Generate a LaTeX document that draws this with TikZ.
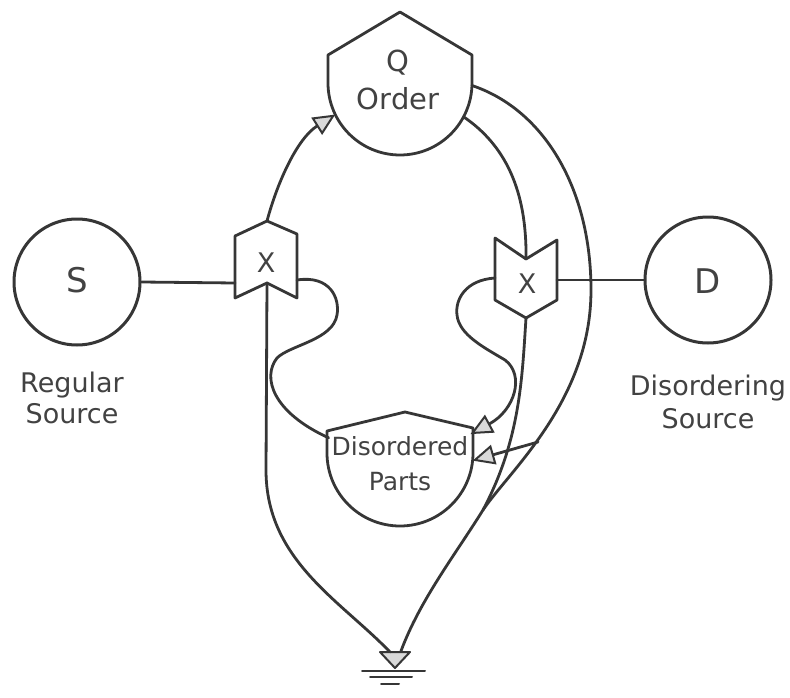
\documentclass[tikz,border=0pt]{standalone}
\usepackage{fontspec}
\setmainfont{DejaVu Sans}
\usetikzlibrary{arrows.meta,calc}
\definecolor{ink}{HTML}{363636}
\definecolor{txt}{HTML}{424242}
\begin{document}
\begin{tikzpicture}[x=1pt,y=-1pt,line cap=round,line join=round,
  wire/.style={draw=ink,line width=2.8pt},
  flow/.style={wire,-{Triangle[length=22pt,width=20pt,fill=gray!30,line width=2pt]}},
  lbl/.style={text=txt,font=\fontsize{27}{32}\selectfont,anchor=base,inner sep=0pt},
  biglbl/.style={lbl,font=\fontsize{34}{40}\selectfont},
  qlbl/.style={lbl,font=\fontsize{29}{34}\selectfont},
  smalllbl/.style={lbl,font=\fontsize{25}{30}\selectfont},
  src/.style={circle,draw=ink,line width=3pt,minimum size=126pt,inner sep=0pt},
  tank/.style={circle,inner sep=0pt,outer sep=0pt}]
\useasboundingbox (0,0) rectangle (790,698);

% sources
\node[src] (S) at (77,282) {};
\node[src] (D) at (708,280) {};
\node[biglbl] (St) at (77,292) {S};
\node[biglbl] (Dt) at (708,293) {D};
\node[lbl] (R1) at (72,392) {Regular};
\node[lbl] (R2) at (72,423) {Source};
\node[lbl] (D1) at (708,395) {Disordering};
\node[lbl] (D2) at (708,428) {Source};

% storage Q
\node[tank,minimum size=144pt] (Q) at (400,83) {};
\draw[wire] (328,83) -- (328,55) -- (400,12) -- (472,55) -- (472,83)
  arc[start angle=0,end angle=180,radius=72] -- cycle;
\node[qlbl] (Qt) at (398,72) {Q};
\node[qlbl] (Ot) at (398,110) {Order};

% storage Disordered Parts
\node[tank,minimum size=146pt] (DP) at (400,453) {};
\draw[wire] (327,453) -- (327,431) -- (405,412) -- (473,428) -- (473,453)
  arc[start angle=0,end angle=180,radius=73] -- cycle;
\node[smalllbl] (DPt1) at (400,455) {Disordered};
\node[smalllbl] (DPt2) at (400,490) {Parts};

% multipliers
\draw[wire] (267,221) -- (297,234) -- (297,298) -- (267,283) -- (235,298) -- (235,236) -- cycle;
\draw[wire] (495,238) -- (526,259) -- (557,240) -- (557,300) -- (526,318) -- (495,300) -- cycle;
\node[lbl] (XLt) at (266,272) {X};
\node[lbl] (XRt) at (527,293) {X};
\coordinate (XLtop) at (267,221);
\coordinate (XLleft) at (235,283);
\coordinate (XLright) at (297,280);
\coordinate (XLnotch) at (267,283);
\coordinate (XRnotch) at (526,259);
\coordinate (XRleft) at (495,278);
\coordinate (XRright) at (557,280);
\coordinate (XRapex) at (526,318);

% sink
\coordinate (sinkL) at (390,652);
\coordinate (sinkR) at (401,651);
\coordinate (merge) at (483,510);
\coordinate (tap) at (538,442);
\draw[wire,fill=gray!30,line width=2pt] (380,652) -- (410,652) -- (395,668) -- cycle;
\draw[wire,line width=2pt] (362,671) -- (425,671);
\draw[wire,line width=2pt] (370,677) -- (412,677);
\draw[wire,line width=2pt] (381,684) -- (399,684);

% connectors
\draw[wire] (S.east) -- (XLleft);
\draw[wire] (XRright) -- (D.west);
\draw[flow] (XLtop) .. controls (278,180) and (298,138) .. (Q.206);
\draw[wire] (Q.-28) .. controls (505,145) and (527,190) .. (XRnotch);
\draw[wire] (Q.-2) .. controls (545,110) and (591,190) .. (591,290)
  .. controls (591,400) and (510,470) .. (merge)
  .. controls (455,555) and (420,600) .. (sinkR);
\draw[wire] (XRapex) .. controls (522,380) and (520,440) .. (merge);
\draw[wire] (XLnotch) -- (266,470) .. controls (266,560) and (340,600) .. (sinkL);
\draw[wire] (XLright) .. controls (330,275) and (340,298) .. (337,315)
  .. controls (333,340) and (290,345) .. (277,358)
  .. controls (262,377) and (272,412) .. (DP.168);
\draw[flow] (XRleft) .. controls (465,280) and (455,300) .. (457,315)
  .. controls (459,335) and (485,348) .. (505,360)
  .. controls (525,375) and (515,410) .. (DP.15);
\draw[flow] (tap) -- (DP.-6);
\end{tikzpicture}
\end{document}
